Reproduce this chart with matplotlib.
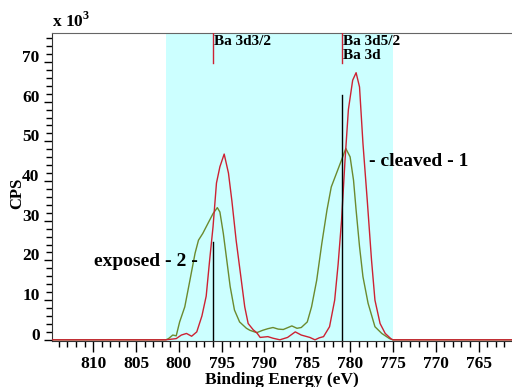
import matplotlib.pyplot as plt
from matplotlib.ticker import MultipleLocator

# Ba 3d XPS spectra, CPS in thousands
cleaved_ev = [815, 801.5, 800.3, 799.7, 799.1, 798.5, 797.9, 797.3, 796.8, 796.4,
              796.0, 795.6, 795.2, 794.7, 794.2, 793.8, 793.3, 792.7, 792.3, 791.9,
              791.3, 790.9, 790.5, 789.6, 789.0, 788.2, 787.3, 786.4, 785.7, 784.7,
              784.1, 783.6, 783.1, 782.4, 781.8, 781.4, 781.0, 780.6, 780.2, 779.7,
              779.3, 778.9, 778.5, 778.0, 777.5, 777.1, 776.5, 775.9, 775.2, 775.0, 761]
cleaved_cps = [0, 0, 0.3, 1.2, 1.6, 0.9, 2.0, 6.0, 11.0, 20.0,
               28.5, 39.5, 43.6, 46.8, 42.0, 35.0, 25.0, 15.0, 8.3, 4.1,
               2.5, 1.8, 0.6, 0.8, 0.4, 0.0, 0.6, 2.0, 1.2, 0.6,
               0.0, 0.5, 0.8, 3.3, 10.0, 19.0, 30.0, 45.0, 58.0, 65.4,
               67.3, 63.7, 49.5, 35.2, 20.1, 10.0, 4.1, 1.6, 0.2, 0, 0]

exposed_ev = [815, 801.5, 801.2, 800.7, 800.3, 799.9, 799.3, 798.7, 798.1, 797.7,
              797.2, 796.6, 796.0, 795.5, 795.2, 794.8, 794.4, 794.0, 793.5, 792.9,
              792.1, 791.7, 790.9, 790.2, 789.6, 789.0, 788.4, 787.8, 786.8, 786.2,
              785.7, 785.0, 784.5, 783.9, 783.3, 782.7, 782.2, 781.6, 781.0, 780.5,
              780.0, 779.6, 779.3, 778.9, 778.5, 777.9, 777.1, 776.3, 775.4, 775.0, 761]
exposed_cps = [0, 0, 0.3, 1.2, 1.0, 4.5, 8.3, 15.0, 21.8, 25.1,
               26.8, 29.3, 31.8, 33.3, 32.2, 26.8, 20.1, 13.4, 7.5, 4.5,
               2.9, 2.4, 1.8, 2.4, 2.8, 3.1, 2.7, 2.6, 3.5, 2.9,
               3.1, 4.5, 8.3, 15.0, 24.3, 32.7, 38.5, 41.9, 45.3, 48.2,
               46.1, 40.2, 32.7, 23.5, 15.9, 9.2, 3.3, 1.6, 0.3, 0, 0]

# peak markers (position, top of black line)
peak_ev = [796.0, 780.9]
peak_top = [24.7, 61.7]
peak_names = ['Ba 3d3/2', 'Ba 3d5/2\nBa 3d']

region = (801.5, 775.0)

plt.rcParams['font.family'] = ['Liberation Serif', 'DejaVu Serif']
plt.rcParams['font.weight'] = 'bold'
plt.rcParams['mathtext.fontset'] = 'custom'
plt.rcParams['mathtext.bf'] = 'Liberation Serif:bold'

fig = plt.figure(figsize=(5.12, 3.87), dpi=100)
ax = fig.add_axes([52 / 512, 1 - 341 / 387, 1 - 52 / 512, (341 - 33) / 387])

ax.axvspan(region[0], region[1], color='#ccffff', zorder=0, lw=0)
ax.plot(exposed_ev, exposed_cps, color='#6b8a2e', lw=1.0, zorder=2)
ax.plot(cleaved_ev, cleaved_cps, color='#cc2233', lw=1.0, zorder=3)

for e, top, name in zip(peak_ev, peak_top, peak_names):
    ax.plot([e, e], [0, top], color='black', lw=1.0, zorder=4)
    ax.plot([e, e], [69.7, 77.3], color='#cc2233', lw=1.0, zorder=4)
    ax.text(e - 0.1, 76.8, name, fontsize=11, fontweight='bold', va='top', ha='left',
            linespacing=1.1, zorder=5)

ax.text(777.8, 44.8, '- cleaved - 1', fontsize=14, fontweight='bold', va='center', ha='left')
ax.text(797.8, 19.7, 'exposed - 2 -', fontsize=14, fontweight='bold', va='center', ha='right')

ax.set_xlim(814.8, 761.1)
ax.set_ylim(-0.3, 77.3)
ax.xaxis.set_major_locator(MultipleLocator(5))
ax.xaxis.set_minor_locator(MultipleLocator(1))
ax.yaxis.set_major_locator(MultipleLocator(10))
ax.yaxis.set_minor_locator(MultipleLocator(2))
ax.tick_params(axis='x', which='major', length=8, width=1, pad=3, labelsize=12.5)
ax.tick_params(axis='x', which='minor', length=4, width=1)
ax.tick_params(axis='y', which='major', length=6, width=1, pad=3, labelsize=12.5)
ax.tick_params(axis='y', which='minor', length=4, width=1)
for lab in ax.get_yticklabels():
    lab.set_va('baseline')

ax.spines['right'].set_visible(False)
ax.spines['top'].set_color('#666666')
ax.spines['bottom'].set_color('#333333')
ax.spines['left'].set_color('#333333')

ax.set_xlabel('Binding Energy (eV)', fontsize=12.5, fontweight='bold', labelpad=0)
ax.set_ylabel('CPS', fontsize=12, fontweight='bold')
ax.yaxis.set_label_coords(-0.058, 0.48)
fig.text(52 / 512, 1 - 27 / 387, r'x 10$^{\mathbf{3}}$', fontsize=12.5, fontweight='bold', ha='left',
         va='baseline')

fig.savefig('out.png', dpi=100)
